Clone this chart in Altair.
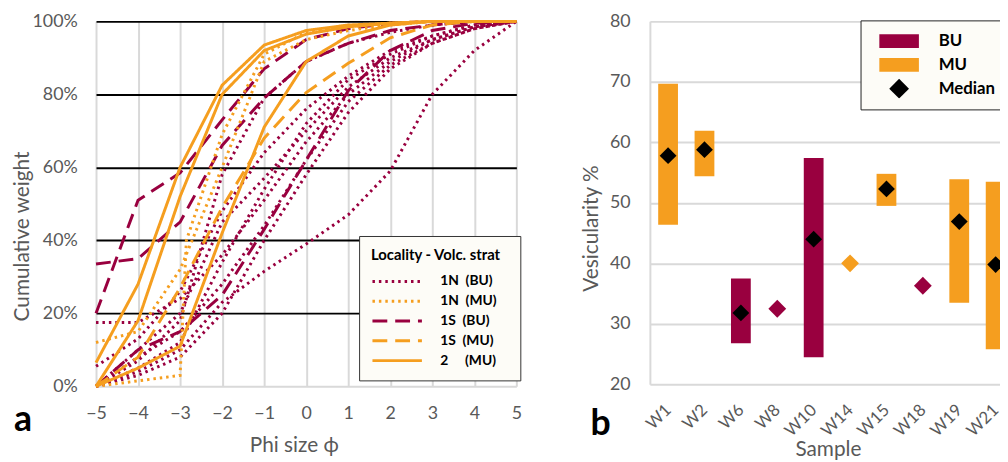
import altair as alt
import pandas as pd

MAROON = "#99003f"
ORANGE = "#f59e1f"
GRID = "#d9d9d9"
TXT = "#595959"
FONT = "Lato"

# ---------------- panel a : cumulative grain-size curves ----------------
PHI = [-5, -4, -3, -2, -1, 0, 1, 2, 3, 4, 5]
PHI_M1 = [-5, -4, -3, -2.85, -2, -1, 0, 1, 2, 3, 4, 5]

GROUPS = ["1N\u00a0\u00a0(BU)", "1N\u00a0\u00a0(MU)", "1S\u00a0\u00a0(BU)",
          "1S\u00a0\u00a0(MU)", "2\u00a0\u00a0\u00a0\u00a0\u00a0(MU)"]
GROUP_COLORS = [MAROON, ORANGE, MAROON, ORANGE, ORANGE]
GROUP_DASH = [[2.5, 4], [2.5, 4], [15, 8], [15, 8], [1, 0]]

# 1N (BU) dotted maroon, cumulative weight %
N1BU_1 = [17.5, 17.5, 24, 36, 51, 67, 80, 89, 95, 98.5, 100]
N1BU_2 = [5.5, 13, 26, 48, 64, 76, 85, 92, 96, 99, 100]
N1BU_3 = [0, 10, 20, 45, 57, 70, 82, 90, 95, 98.5, 100]
N1BU_4 = [0, 4, 10, 23, 31.5, 39, 47, 59, 80, 92, 100]
N1BU_5 = [0, 8, 15, 28, 44, 62, 78, 88, 94, 98, 100]
N1BU_6 = [0, 5, 12, 34, 54, 72, 84, 91, 96, 99, 100]
N1BU_7 = [0, 7, 18, 58, 79, 89, 94, 97, 99, 100, 100]
N1BU_8 = [0, 3, 8, 20, 40, 58, 75, 87, 94, 98, 100]
# 1N (MU) dotted orange
N1MU_1 = [0, 1.5, 3, 40, 69, 91, 97, 98.5, 99.5, 100, 100, 100]   # on PHI_M1
N1MU_2 = [12, 15, 32, 60, 89, 95, 97.5, 99, 100, 100, 100]
# 1S (BU) dashed maroon
S1BU_1 = [20, 51, 58.5, 73, 87, 95, 98, 99.5, 100, 100, 100]
S1BU_2 = [33.5, 35, 45, 66, 79, 89, 94, 97.5, 99, 100, 100]
S1BU_3 = [0, 10, 15, 25, 43, 62, 81, 92, 97.5, 99.5, 100]
# 1S (MU) dashed orange
S1MU_1 = [0, 8, 27, 49, 68, 80.5, 88.5, 95.5, 99, 100, 100]
# 2 (MU) solid orange
L2MU_1 = [6.5, 28, 60, 82.5, 93.5, 97.5, 99, 99.5, 100, 100, 100]
L2MU_2 = [0, 18, 52, 80, 92, 96.5, 98.5, 99.5, 100, 100, 100]
L2MU_3 = [0, 5, 11, 42, 71, 89, 96, 99, 100, 100, 100]

SERIES = [
    ("n1bu1", 0, PHI, N1BU_1), ("n1bu2", 0, PHI, N1BU_2), ("n1bu3", 0, PHI, N1BU_3),
    ("n1bu4", 0, PHI, N1BU_4), ("n1bu5", 0, PHI, N1BU_5), ("n1bu6", 0, PHI, N1BU_6),
    ("n1bu7", 0, PHI, N1BU_7), ("n1bu8", 0, PHI, N1BU_8),
    ("s1bu1", 2, PHI, S1BU_1), ("s1bu2", 2, PHI, S1BU_2), ("s1bu3", 2, PHI, S1BU_3),
    ("n1mu1", 1, PHI_M1, N1MU_1), ("n1mu2", 1, PHI, N1MU_2),
    ("s1mu1", 3, PHI, S1MU_1),
    ("l2mu1", 4, PHI, L2MU_1), ("l2mu2", 4, PHI, L2MU_2), ("l2mu3", 4, PHI, L2MU_3),
]

rows = []
for sid, gi, phis, vals in SERIES:
    for p, v in zip(phis, vals):
        rows.append({"line": sid, "grp": GROUPS[gi], "phi": p, "cw": v / 100.0})
df_a = pd.DataFrame(rows)

leg_a = alt.Legend(
    title="Locality - Volc. strat\u00a0\u00a0\u200b", orient="none",
    legendX=266, legendY=217,
    direction="vertical", symbolType="stroke", symbolSize=2500, symbolStrokeWidth=3,
    symbolOffset=0, clipHeight=16, rowPadding=4,
    labelFont=FONT, labelFontSize=14, labelFontWeight="bold", labelColor="black",
    titleFont=FONT, titleFontSize=15, titleFontWeight="bold", titleColor="black",
    fillColor="#fdfcf7", strokeColor="#333333", padding=12,
    titlePadding=11, labelOffset=17,
)

lines = alt.Chart(df_a).mark_line(strokeWidth=3).encode(
    x=alt.X("phi:Q", scale=alt.Scale(domain=[-5, 5], nice=False),
            axis=alt.Axis(values=PHI, title="Phi size ϕ", grid=True, gridColor=GRID,
                          gridWidth=2, domain=False, ticks=False, labelFlush=False,
                          labelFont=FONT, labelFontSize=18, labelColor=TXT, labelPadding=19,
                          titleFont=FONT, titleFontSize=21, titleColor=TXT,
                          titleFontWeight="normal", titlePadding=12, titleX=200)),
    y=alt.Y("cw:Q", scale=alt.Scale(domain=[0, 1], nice=False),
            axis=alt.Axis(values=[0, 0.2, 0.4, 0.6, 0.8, 1.0], format=".0%",
                          title="Cumulative weight", grid=True,
                          gridColor={"condition": {"test": "datum.value === 0", "value": GRID},
                                     "value": "black"},
                          gridWidth=2, domain=False, ticks=False, labelFlush=False,
                          labelFont=FONT, labelFontSize=18, labelColor=TXT, labelPadding=19,
                          titleFont=FONT, titleFontSize=21, titleColor=TXT,
                          titleFontWeight="normal", titlePadding=0, titleY=217)),
    color=alt.Color("grp:N", scale=alt.Scale(domain=GROUPS, range=GROUP_COLORS), legend=leg_a),
    strokeDash=alt.StrokeDash("grp:N", scale=alt.Scale(domain=GROUPS, range=GROUP_DASH), legend=leg_a),
    detail="line:N",
    order="phi:Q",
)

lab_a = alt.Chart(pd.DataFrame({"t": ["a"]})).mark_text(
    font=FONT, fontSize=36, fontWeight="bold", color="black", align="left", baseline="alphabetic"
).encode(x=alt.value(-83), y=alt.value(414), text="t:N")

panel_a = alt.layer(lines, lab_a).properties(width=425, height=369)

# ---------------- panel b : vesicularity ranges ----------------
SAMPLES = ["W1", "W2", "W6", "W8", "W10", "W14", "W15", "W18", "W19", "W21"]

RANGE_SAMPLE = ["W1", "W2", "W6", "W10", "W15", "W19", "W21"]
RANGE_UNIT = ["MU", "MU", "BU", "BU", "MU", "MU", "MU"]
RANGE_LO = [46.4, 54.4, 26.8, 24.5, 49.5, 33.5, 25.8]
RANGE_HI = [69.7, 61.9, 37.5, 57.4, 54.8, 53.9, 53.5]
RANGE_MED = [57.8, 58.8, 31.8, 44.0, 52.3, 46.9, 39.8]

SINGLE_SAMPLE = ["W8", "W14", "W18"]
SINGLE_UNIT = ["BU", "MU", "BU"]
SINGLE_VAL = [32.5, 40.0, 36.3]

UNITS = ["BU", "MU"]
UNIT_COLORS = [MAROON, ORANGE]
LEG_B = ["BU", "MU", "Median"]
LEG_B_COLORS = [MAROON, ORANGE, "black"]
RECT = "M-1,-0.35L1,-0.35L1,0.35L-1,0.35Z"
DIAM = "M0,-0.5L0.5,0L0,0.5L-0.5,0Z"

df_r = pd.DataFrame({"sample": RANGE_SAMPLE, "unit": RANGE_UNIT, "lo": RANGE_LO,
                     "hi": RANGE_HI, "med": RANGE_MED, "lg": ["Median"] * len(RANGE_SAMPLE)})
df_s = pd.DataFrame({"sample": SINGLE_SAMPLE, "unit": SINGLE_UNIT, "val": SINGLE_VAL})

x_b = alt.X("sample:O",
            scale=alt.Scale(type="point", domain=SAMPLES, padding=0.5),
            axis=alt.Axis(title="Sample", labelAngle=315, labelAlign="right",
                          labelBaseline="middle", labelFont=FONT, labelFontSize=17,
                          labelColor=TXT, labelPadding=23, ticks=False, domain=False,
                          titleFont=FONT, titleFontSize=21, titleColor=TXT,
                          titleFontWeight="normal", titlePadding=0, titleX=180))
y_axis_b = alt.Axis(values=[20, 30, 40, 50, 60, 70, 80], title="Vesicularity %", grid=True,
                    gridColor=GRID, gridWidth=2, domain=True, domainColor=GRID, domainWidth=2,
                    ticks=False, labelFlush=False, labelFont=FONT, labelFontSize=18,
                    labelColor=TXT, labelPadding=20, titleFont=FONT, titleFontSize=21,
                    titleColor=TXT, titleFontWeight="normal", titlePadding=8, titleY=209)
y_scale_b = alt.Scale(domain=[20, 80], nice=False)

bars = alt.Chart(df_r).mark_rule(strokeWidth=20, strokeCap="butt").encode(
    x=x_b,
    y=alt.Y("lo:Q", scale=y_scale_b, axis=y_axis_b),
    y2="hi:Q",
    stroke=alt.Stroke("unit:N", scale=alt.Scale(domain=UNITS, range=UNIT_COLORS), legend=None),
)

singles = alt.Chart(df_s).mark_point(shape=DIAM, filled=True, opacity=1, size=1296).encode(
    x=x_b,
    y=alt.Y("val:Q", scale=y_scale_b, axis=y_axis_b),
    fill=alt.Fill("unit:N", scale=alt.Scale(domain=UNITS, range=UNIT_COLORS), legend=None),
)

leg_b = alt.Legend(title=None, orient="none", legendX=213, legendY=-1, symbolSize=1600,
                   symbolStrokeWidth=0, clipHeight=20, rowPadding=4, labelFont=FONT,
                   labelFontSize=17, labelFontWeight="bold", labelColor="black",
                   fillColor="#fdfcf7", strokeColor="#222222", padding=11,
                   labelOffset=20, symbolOffset=8)

medians = alt.Chart(df_r).mark_point(filled=True, opacity=1, size=1156).encode(
    x=x_b,
    y=alt.Y("med:Q", scale=y_scale_b, axis=y_axis_b),
    color=alt.Color("lg:N", scale=alt.Scale(domain=LEG_B, range=LEG_B_COLORS), legend=leg_b),
    shape=alt.Shape("lg:N", scale=alt.Scale(domain=LEG_B, range=[RECT, RECT, DIAM]), legend=leg_b),
)

lab_b = alt.Chart(pd.DataFrame({"t": ["b"]})).mark_text(
    font=FONT, fontSize=36, fontWeight="bold", color="black", align="left", baseline="alphabetic"
).encode(x=alt.value(-60), y=alt.value(418), text="t:N")

panel_b = alt.layer(bars, singles, medians, lab_b).properties(width=368, height=367)

# negative right padding crops the figure at the window edge like the reference
chart = alt.hconcat(panel_a, panel_b, spacing=59).resolve_scale(
    color="independent", strokeDash="independent", shape="independent"
).properties(
    padding={"left": 3, "top": 2, "right": -14, "bottom": 0}
).configure_view(stroke=None)

chart.save("out.html", embed_options={"renderer": "svg", "actions": False})
